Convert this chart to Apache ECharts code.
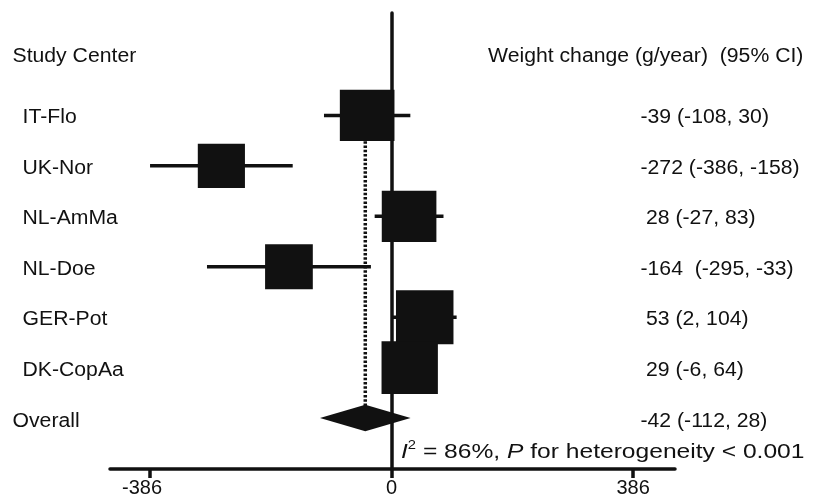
<!DOCTYPE html>
<html>
<head>
<meta charset="utf-8">
<style>
  html, body { margin: 0; padding: 0; background: #fff; }
  #chart { width: 813px; height: 498px; }
</style>
<script src="https://cdn.jsdelivr.net/npm/echarts@6/dist/echarts.min.js"></script>
</head>
<body>
<div id="chart"></div>
<script>
// ---- data ----
const studies   = ['IT-Flo', 'UK-Nor', 'NL-AmMa', 'NL-Doe', 'GER-Pot', 'DK-CopAa'];
const estimate  = [-39, -272, 28, -164, 53, 29];
const lowerCI   = [-108, -386, -27, -295, 2, -6];
const upperCI   = [30, -158, 83, -33, 104, 64];
const weightRel = [0.95, 0.82, 0.95, 0.83, 1.0, 0.98];   // relative study weight (box size)
const ciText    = ['-39 (-108, 30)', '-272 (-386, -158)', '28 (-27, 83)', '-164  (-295, -33)', '53 (2, 104)', '29 (-6, 64)'];
const overallLabel = ['Overall'];
const overallEst   = [-42];
const overallLow   = [-112];
const overallHigh  = [28];
const overallText  = ['-42 (-112, 28)'];
const xTickValues  = [-386, 0, 386];
const headers      = ['Study Center', 'Weight change (g/year)  (95% CI)'];
const hetText      = ['I', '2', ' = 86%, ', 'P', ' for heterogeneity < 0.001'];

// ---- style constants ----
const FONT = 'Arial, "Liberation Sans", sans-serif';
const FS = 20;
const SX = 1.06;
const INK = '#111';
const BOX_H = 54, BOX_W = 57.5;
const LW = 3.5;

const nRows = studies.length;
const overallRow = nRows;

function textEl(x, y, str, extra) {
  return Object.assign({
    type: 'text', x: x, y: y, scaleX: SX,
    style: { text: str, fontSize: FS, fontFamily: FONT, fill: INK,
             align: 'left', verticalAlign: 'middle' }
  }, extra || {});
}

const rowData = studies.map((s, i) => [estimate[i], i, lowerCI[i], upperCI[i], weightRel[i]]);

const chart = echarts.init(document.getElementById('chart'), null, { renderer: 'canvas' });

const option = {
  animation: false,
  backgroundColor: '#fff',
  grid: { left: 110, width: 565, top: 13, bottom: 29, containLabel: false },
  xAxis: {
    type: 'value', min: -450, max: 453,
    axisLine: { show: true, onZero: false, lineStyle: { color: INK, width: LW } },
    axisTick: { show: true, customValues: xTickValues, length: 9, lineStyle: { color: INK, width: LW } },
    axisLabel: {
      show: true, customValues: xTickValues, margin: 9,
      fontSize: 20, fontFamily: FONT, color: INK,
      formatter: v => v < 0 ? '{neg|' + v + '}' : String(v),
      rich: { neg: { fontSize: 20, fontFamily: FONT, color: INK, padding: [0, 16, 0, 0] } }
    },
    splitLine: { show: false }
  },
  yAxis: {
    type: 'value', inverse: true, min: -2.03, max: 7.01,
    axisLine: { show: true, onZero: true, lineStyle: { color: INK, width: LW } },
    axisTick: { show: false }, axisLabel: { show: false }, splitLine: { show: false }
  },
  series: [
    // dotted vertical line at overall estimate
    {
      type: 'custom', z: 1,
      data: [[overallEst[0], 0, overallRow]],
      renderItem: (params, api) => {
        const p0 = api.coord([api.value(0), api.value(1)]);
        const p1 = api.coord([api.value(0), api.value(2)]);
        return { type: 'line', shape: { x1: p0[0], y1: p0[1], x2: p1[0], y2: p1[1] - 12 },
                 style: { stroke: INK, lineWidth: 3.5, lineDash: [2.5, 1.8] } };
      }
    },
    // study rows: CI line + box + labels
    {
      type: 'custom', z: 3,
      data: rowData,
      renderItem: (params, api) => {
        const i = params.dataIndex;
        const c = api.coord([api.value(0), api.value(1)]);
        const lo = api.coord([api.value(2), api.value(1)]);
        const hi = api.coord([api.value(3), api.value(1)]);
        const w = BOX_W * api.value(4), h = BOX_H * api.value(4);
        const txt = ciText[i];
        return {
          type: 'group',
          children: [
            { type: 'line', shape: { x1: lo[0], y1: c[1], x2: hi[0], y2: c[1] },
              style: { stroke: INK, lineWidth: LW } },
            { type: 'rect', shape: { x: c[0] - w / 2, y: c[1] - h / 2, width: w, height: h },
              style: { fill: INK } },
            textEl(22.5, c[1] + 2.5, studies[i]),
            textEl(txt.charAt(0) === '-' ? 640.5 : 646, c[1] + 2.5, txt)
          ]
        };
      }
    },
    // overall diamond
    {
      type: 'custom', z: 3,
      data: [[overallEst[0], overallRow, overallLow[0], overallHigh[0]]],
      renderItem: (params, api) => {
        const c = api.coord([api.value(0), api.value(1)]);
        const lo = api.coord([api.value(2), api.value(1)]);
        const hi = api.coord([api.value(3), api.value(1)]);
        const dh = 13.3;
        return {
          type: 'group',
          children: [
            { type: 'polygon', shape: { points: [[lo[0] - 1.5, c[1]], [c[0], c[1] - dh], [hi[0] + 1.5, c[1]], [c[0], c[1] + dh]] },
              style: { fill: INK } },
            textEl(12.5, c[1] + 3, overallLabel[0]),
            textEl(640.5, c[1] + 3, overallText[0])
          ]
        };
      }
    }
  ],
  graphic: [
    textEl(12.5, 56, headers[0]),
    textEl(488, 56, headers[1]),
    {
      type: 'text', x: 401, y: 451, scaleX: 1.23,
      style: {
        text: '{it|' + hetText[0] + '}{sup|' + hetText[1] + '}{n|' + hetText[2] + '}{it|' + hetText[3] + '}{n|' + hetText[4] + '}',
        fontSize: 20, fontFamily: FONT, fill: INK, verticalAlign: 'middle',
        rich: {
          it: { fontSize: 20, fontFamily: FONT, fontStyle: 'italic', fill: INK, color: INK, verticalAlign: 'bottom', lineHeight: 22 },
          sup: { fontSize: 12, fontFamily: FONT, fill: INK, color: INK, verticalAlign: 'top', lineHeight: 22 },
          n: { fontSize: 20, fontFamily: FONT, fill: INK, color: INK, verticalAlign: 'bottom', lineHeight: 22 }
        }
      }
    }
  ]
};

chart.setOption(option);
</script>
</body>
</html>
